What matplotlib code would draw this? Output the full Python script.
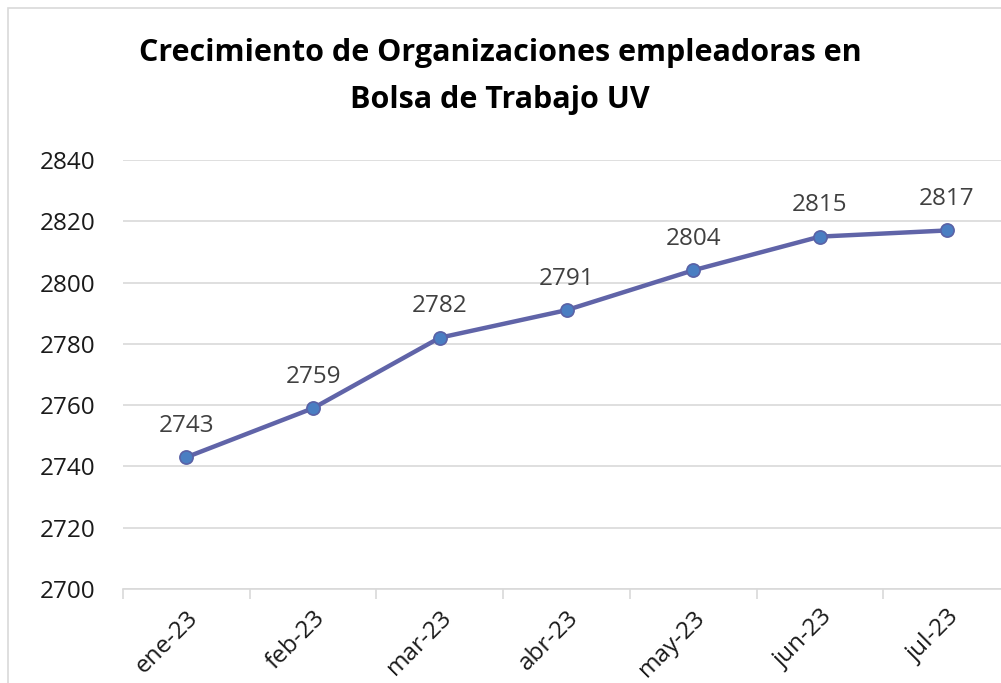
import matplotlib.pyplot as plt
from matplotlib.patches import Rectangle

plt.rcParams['font.family'] = ['Open Sans', 'DejaVu Sans']

# data
months = ['ene-23', 'feb-23', 'mar-23', 'abr-23', 'may-23', 'jun-23', 'jul-23']
organizaciones = [2743, 2759, 2782, 2791, 2804, 2815, 2817]
y_ticks = [2700, 2720, 2740, 2760, 2780, 2800, 2820, 2840]

fig = plt.figure(figsize=(10.01, 6.83), dpi=100)

# chart border (only left and top visible in the original crop)
fig.patches.append(Rectangle((8 / 1001, -0.1), 1.2, (675 / 683) + 0.1,
                             transform=fig.transFigure, fill=False,
                             edgecolor='#d9d9d9', linewidth=1.2))

ax = fig.add_axes([123 / 1001, 94 / 683, 887 / 1001, 429 / 683])
x = list(range(len(months)))

ax.plot(x, organizaciones, color='#6064a8', linewidth=3.2, marker='o',
        markersize=9.5, markerfacecolor='#4a7ec2', markeredgecolor='#5a62a6',
        markeredgewidth=1.2, zorder=3)

for xi, v in zip(x, organizaciones):
    ax.annotate(str(v), (xi, v), xytext=(0, 14), textcoords='offset points',
                ha='center', va='bottom', fontsize=17.5, color='#404040')

ax.set_xlim(-0.5, len(months) - 0.5)
ax.set_ylim(2700, 2840)
ax.set_yticks(y_ticks)
ax.set_yticklabels([str(t) for t in y_ticks], fontsize=17.5, color='#1a1a1a')
ax.tick_params(axis='y', length=0, pad=20)

# category boundaries as tick marks
ax.set_xticks([i - 0.5 for i in range(len(months) + 1)], minor=False)
ax.set_xticklabels([])
ax.tick_params(axis='x', which='major', length=7, color='#d9d9d9', width=1.2)
ax.set_xticks(x, minor=True)
ax.set_xticklabels(months, minor=True, rotation=45, ha='right',
                   rotation_mode='anchor', fontsize=17.5, color='#1a1a1a')
ax.tick_params(axis='x', which='minor', length=0, pad=12)

ax.grid(axis='y', color='#d9d9d9', linewidth=1.2)
ax.set_axisbelow(True)
for side in ['top', 'right', 'left']:
    ax.spines[side].set_visible(False)
ax.spines['bottom'].set_color('#d9d9d9')
ax.spines['bottom'].set_linewidth(1.2)

fig.text(500 / 1001, 1 - 53 / 683,
         'Crecimiento de Organizaciones empleadoras en',
         ha='center', va='center', fontsize=22, fontweight='bold', color='black')
fig.text(500 / 1001, 1 - 100 / 683, 'Bolsa de Trabajo UV',
         ha='center', va='center', fontsize=22, fontweight='bold', color='black')

fig.savefig('out.png', dpi=100)
